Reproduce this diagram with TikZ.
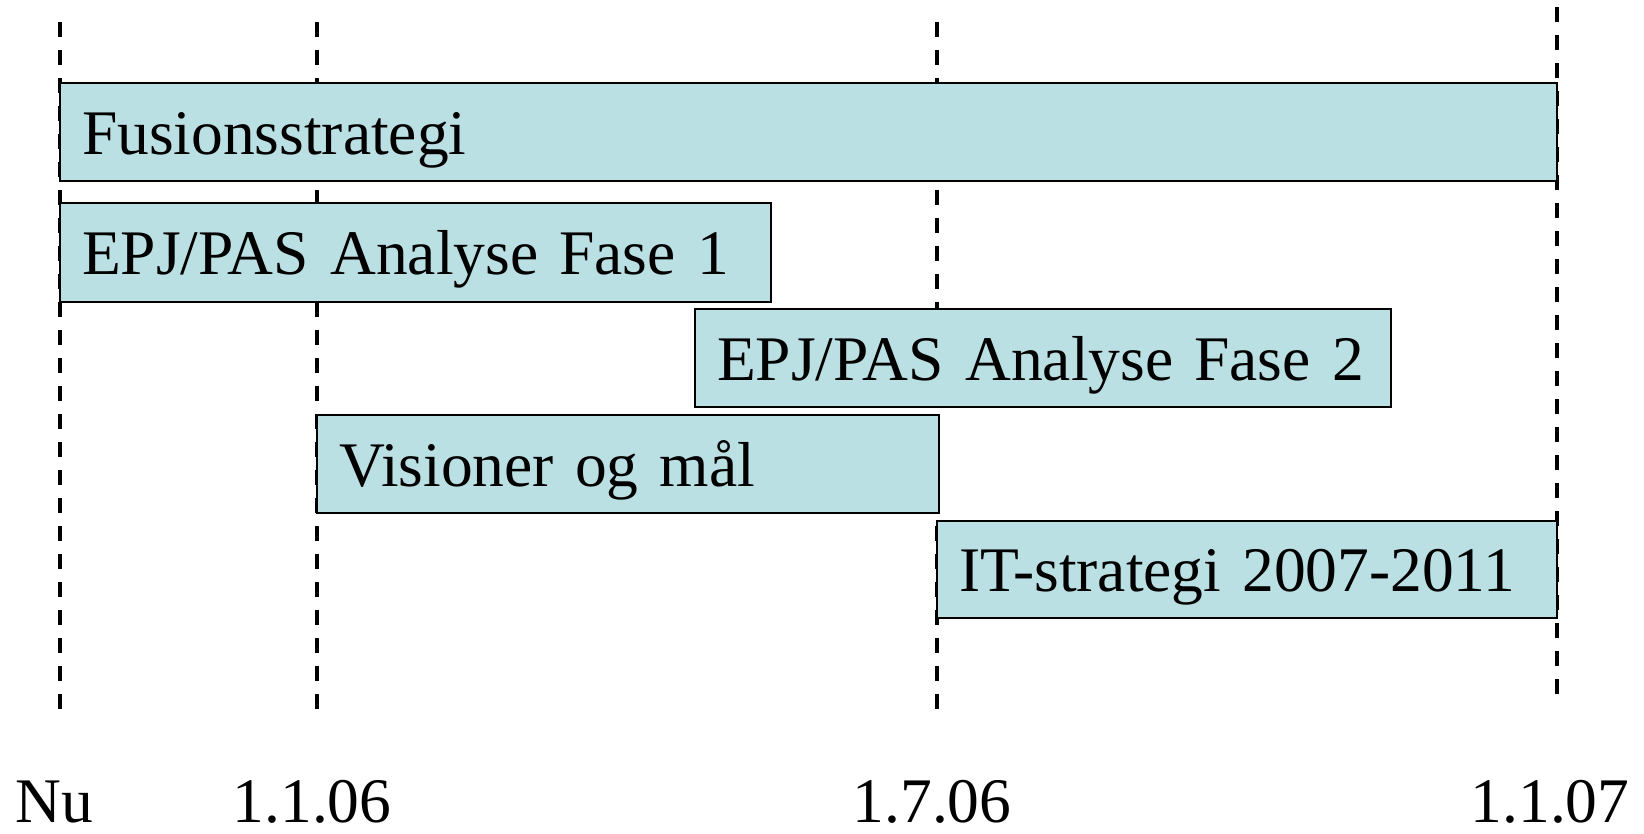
\documentclass[tikz,border=0pt]{standalone}
\usepackage{fontspec}
\setmainfont{Liberation Serif}
\definecolor{barfill}{HTML}{BBE0E3}
\tikzset{
  bar/.style={draw=black, line width=1.5pt, fill=barfill, anchor=north west,
    outer sep=0pt, inner ysep=0pt, inner xsep=22pt, align=left,
    text height=44pt, text depth=0pt,
    font=\fontsize{63.5pt}{70pt}\selectfont},
  dateline/.style={line width=3.8pt, dash pattern=on 15pt off 13pt},
  datelabel/.style={anchor=base, inner sep=0pt, text depth=0pt,
    font=\fontsize{63.5pt}{70pt}\selectfont}
}
\begin{document}
\begin{tikzpicture}[x=1pt,y=-1pt]
\useasboundingbox (0,0) rectangle (1644,833);
% date lines
\coordinate (t0) at (60,22);   \coordinate (b0) at (60,709);
\coordinate (t1) at (317,22);  \coordinate (b1) at (317,709);
\coordinate (t2) at (937,22);  \coordinate (b2) at (937,710);
\coordinate (t3) at (1557,7);  \coordinate (b3) at (1557,695);
\draw[dateline] (t0) -- (b0);
\draw[dateline] (t1) -- (b1);
\draw[dateline] (t2) -- (b2);
\draw[dateline] (t3) -- (b3);
% bars
\node[bar, minimum width=1497pt, minimum height=98pt, text width=1453pt] (fus) at (60,83) {Fusionsstrategi};
\node[bar, minimum width=711pt, minimum height=99pt, text width=667pt] (f1) at (60,203) {EPJ/PAS Analyse Fase 1};
\node[bar, minimum width=696pt, minimum height=98pt, text width=652pt] (f2) at (695,309) {EPJ/PAS Analyse Fase 2};
\node[bar, minimum width=622pt, minimum height=98pt, text width=578pt] (vis) at (317,415) {Visioner og mål};
\node[bar, minimum width=620pt, minimum height=97pt, text width=576pt] (it) at (937,521) {IT-strategi 2007-2011};
% date labels
\node[datelabel, anchor=base west] (nu) at (15,822) {Nu};
\node[datelabel] (d1) at (312,822) {1.1.06};
\node[datelabel] (d2) at (932,822) {1.7.06};
\node[datelabel] (d3) at (1550,822) {1.1.07};
\end{tikzpicture}
\end{document}
